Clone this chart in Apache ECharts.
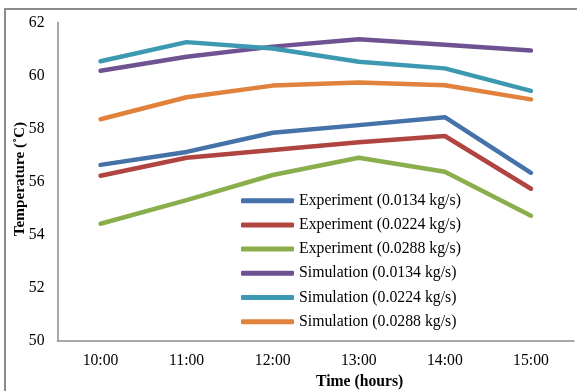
<!DOCTYPE html>
<html>
<head>
<meta charset="utf-8">
<script src="https://cdn.jsdelivr.net/npm/echarts@6/dist/echarts.min.js"></script>
<style>
  html, body { margin: 0; padding: 0; background: #fff; }
  #chart { width: 577px; height: 391px; }
</style>
</head>
<body>
<div id="chart"></div>
<script>
// Hourly temperature readings, experiment vs. simulation at three mass flow rates
const hours = ['10:00', '11:00', '12:00', '13:00', '14:00', '15:00'];
const yTicks = [50, 52, 54, 56, 58, 60, 62];

const exp0134 = [56.63, 57.12, 57.84, 58.13, 58.43, 56.33];
const exp0224 = [56.22, 56.90, 57.19, 57.48, 57.72, 55.73];
const exp0288 = [54.41, 55.30, 56.25, 56.90, 56.37, 54.71];
const sim0134 = [60.18, 60.71, 61.09, 61.37, 61.16, 60.94];
const sim0224 = [60.54, 61.26, 61.02, 60.52, 60.27, 59.42];
const sim0288 = [58.35, 59.18, 59.62, 59.74, 59.63, 59.10];

const seriesNames = [
  'Experiment (0.0134 kg/s)',
  'Experiment (0.0224 kg/s)',
  'Experiment (0.0288 kg/s)',
  'Simulation (0.0134 kg/s)',
  'Simulation (0.0224 kg/s)',
  'Simulation (0.0288 kg/s)'
];
const seriesValues = [exp0134, exp0224, exp0288, sim0134, sim0224, sim0288];
const colors = ['#4672aa', '#b04441', '#8bae4c', '#6e5292', '#3d98b1', '#e0823b'];

const serif = "'Liberation Serif', 'Times New Roman', serif";

const chart = echarts.init(document.getElementById('chart'), null, { renderer: 'canvas' });

chart.setOption({
  animation: false,
  backgroundColor: '#ffffff',
  textStyle: { fontFamily: serif },
  grid: { left: 57.5, right: 3, top: 22.5, bottom: 50.3, containLabel: false },
  graphic: [
    {
      type: 'rect',
      shape: { x: 5, y: 9, width: 600, height: 420 },
      style: { fill: 'none', stroke: '#8c8c8c', lineWidth: 2 },
      silent: true, z: 0
    },
    {
      type: 'text',
      left: 316, top: 374,
      style: {
        text: 'Time (hours)', fontFamily: serif, fontSize: 15.7, fontWeight: 'bold',
        fill: '#000', textAlign: 'center'
      }
    },
    {
      type: 'text',
      x: 20, y: 179,
      rotation: Math.PI / 2,
      style: {
        text: 'Temperature (˚C)', fontFamily: serif, fontSize: 15.2, fontWeight: 'bold',
        fill: '#000', align: 'center', verticalAlign: 'middle'
      }
    }
  ],
  legend: {
    orient: 'vertical',
    left: 241,
    top: 192.7,
    padding: 0,
    itemWidth: 53,
    itemHeight: 5,
    itemGap: 8.2,
    icon: 'roundRect',
    textStyle: { fontFamily: serif, fontSize: 15.8, color: '#000', lineHeight: 16 },
    data: seriesNames
  },
  xAxis: {
    type: 'category',
    data: hours,
    boundaryGap: true,
    axisLine: { show: true, lineStyle: { color: '#8c8c8c', width: 1.5 } },
    axisTick: { show: false },
    axisLabel: { color: '#000', fontFamily: serif, fontSize: 15.7, margin: 12 },
    splitLine: { show: false }
  },
  yAxis: {
    type: 'value',
    min: yTicks[0],
    max: yTicks[yTicks.length - 1],
    interval: yTicks[1] - yTicks[0],
    axisLine: { show: true, lineStyle: { color: '#8c8c8c', width: 1.5 } },
    axisTick: { show: false },
    axisLabel: { color: '#000', fontFamily: serif, fontSize: 15.7, margin: 13 },
    splitLine: { show: false }
  },
  series: seriesNames.map((name, i) => ({
    name: name,
    type: 'line',
    data: seriesValues[i],
    symbol: 'none',
    smooth: false,
    color: colors[i],
    lineStyle: { width: 4.5, color: colors[i], cap: 'round', join: 'round' },
    itemStyle: { color: colors[i] }
  }))
});
</script>
</body>
</html>
